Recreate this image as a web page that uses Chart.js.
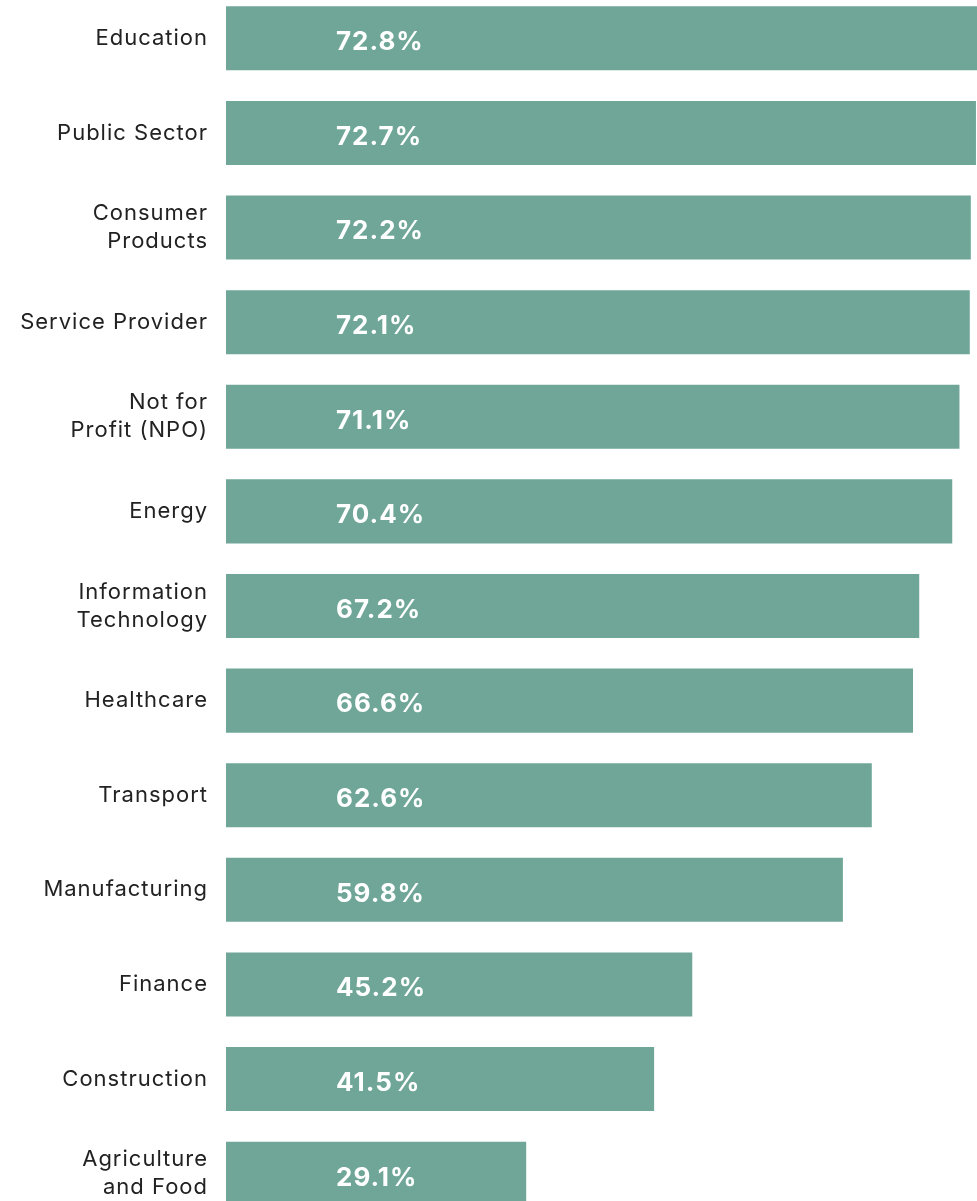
<!DOCTYPE html>
<html>
<head>
<meta charset="utf-8">
<script src="https://cdn.jsdelivr.net/npm/chart.js@4"></script>
<style>
  html, body { margin: 0; padding: 0; background: #fff; overflow: hidden; }
  #wrap { position: absolute; left: 0; top: -9px; width: 977px; height: 1230px; }
</style>
</head>
<body>
<div id="wrap"><canvas id="sectorChart"></canvas></div>
<script>
// Share by sector (%)
const sectors = [
  'Education', 'Public Sector', ['Consumer', 'Products'], 'Service Provider',
  ['Not for', 'Profit (NPO)'], 'Energy', ['Information', 'Technology'], 'Healthcare',
  'Transport', 'Manufacturing', 'Finance', 'Construction', ['Agriculture', 'and Food']
];
const shares = [72.8, 72.7, 72.2, 72.1, 71.1, 70.4, 67.2, 66.6, 62.6, 59.8, 45.2, 41.5, 29.1];

const barColor = '#6fa698';

// a touch of tracking so Inter sits closer to the wide geometric face of the original
const tracking = {
  id: 'tracking',
  beforeUpdate(chart) { chart.ctx.letterSpacing = '1px'; },
  beforeDraw(chart) { chart.ctx.letterSpacing = '1px'; }
};

// white percentage labels inside each bar
const valueLabels = {
  id: 'valueLabels',
  afterDatasetsDraw(chart) {
    const { ctx, scales: { x } } = chart;
    const meta = chart.getDatasetMeta(0);
    ctx.save();
    ctx.fillStyle = '#ffffff';
    ctx.font = 'bold 26px Inter';
    ctx.letterSpacing = '1px';
    ctx.textAlign = 'left';
    ctx.textBaseline = 'middle';
    meta.data.forEach((bar, i) => {
      ctx.fillText(shares[i].toFixed(1) + '%', x.getPixelForValue(0) + 110, bar.y + 4);
    });
    ctx.restore();
  }
};

document.addEventListener('DOMContentLoaded', () => {
  const ctx = document.getElementById('sectorChart');
  new Chart(ctx.getContext('2d'), {
    type: 'bar',
    data: {
      labels: sectors,
      datasets: [{
        data: shares,
        backgroundColor: barColor,
        borderWidth: 0,
        barPercentage: 0.677,
        categoryPercentage: 1,
      }]
    },
    options: {
      indexAxis: 'y',
      responsive: true,
      maintainAspectRatio: false,
      animation: false,
      layout: { padding: 0 },
      plugins: { legend: { display: false }, tooltip: { enabled: false } },
      scales: {
        x: { display: false, min: 0, max: 72.8 },
        y: {
          afterFit(scale) {
            scale.width = 226;
            scale.paddingTop = 0;
            scale.paddingBottom = 0;
          },
          grid: { display: false, drawTicks: false },
          border: { display: false },
          ticks: {
            color: '#222222', padding: 18, autoSkip: false,
            font: { family: 'Inter', size: 22, lineHeight: 1.27 }
          }
        }
      }
    },
    plugins: [tracking, valueLabels]
  });
});
</script>
</body>
</html>
